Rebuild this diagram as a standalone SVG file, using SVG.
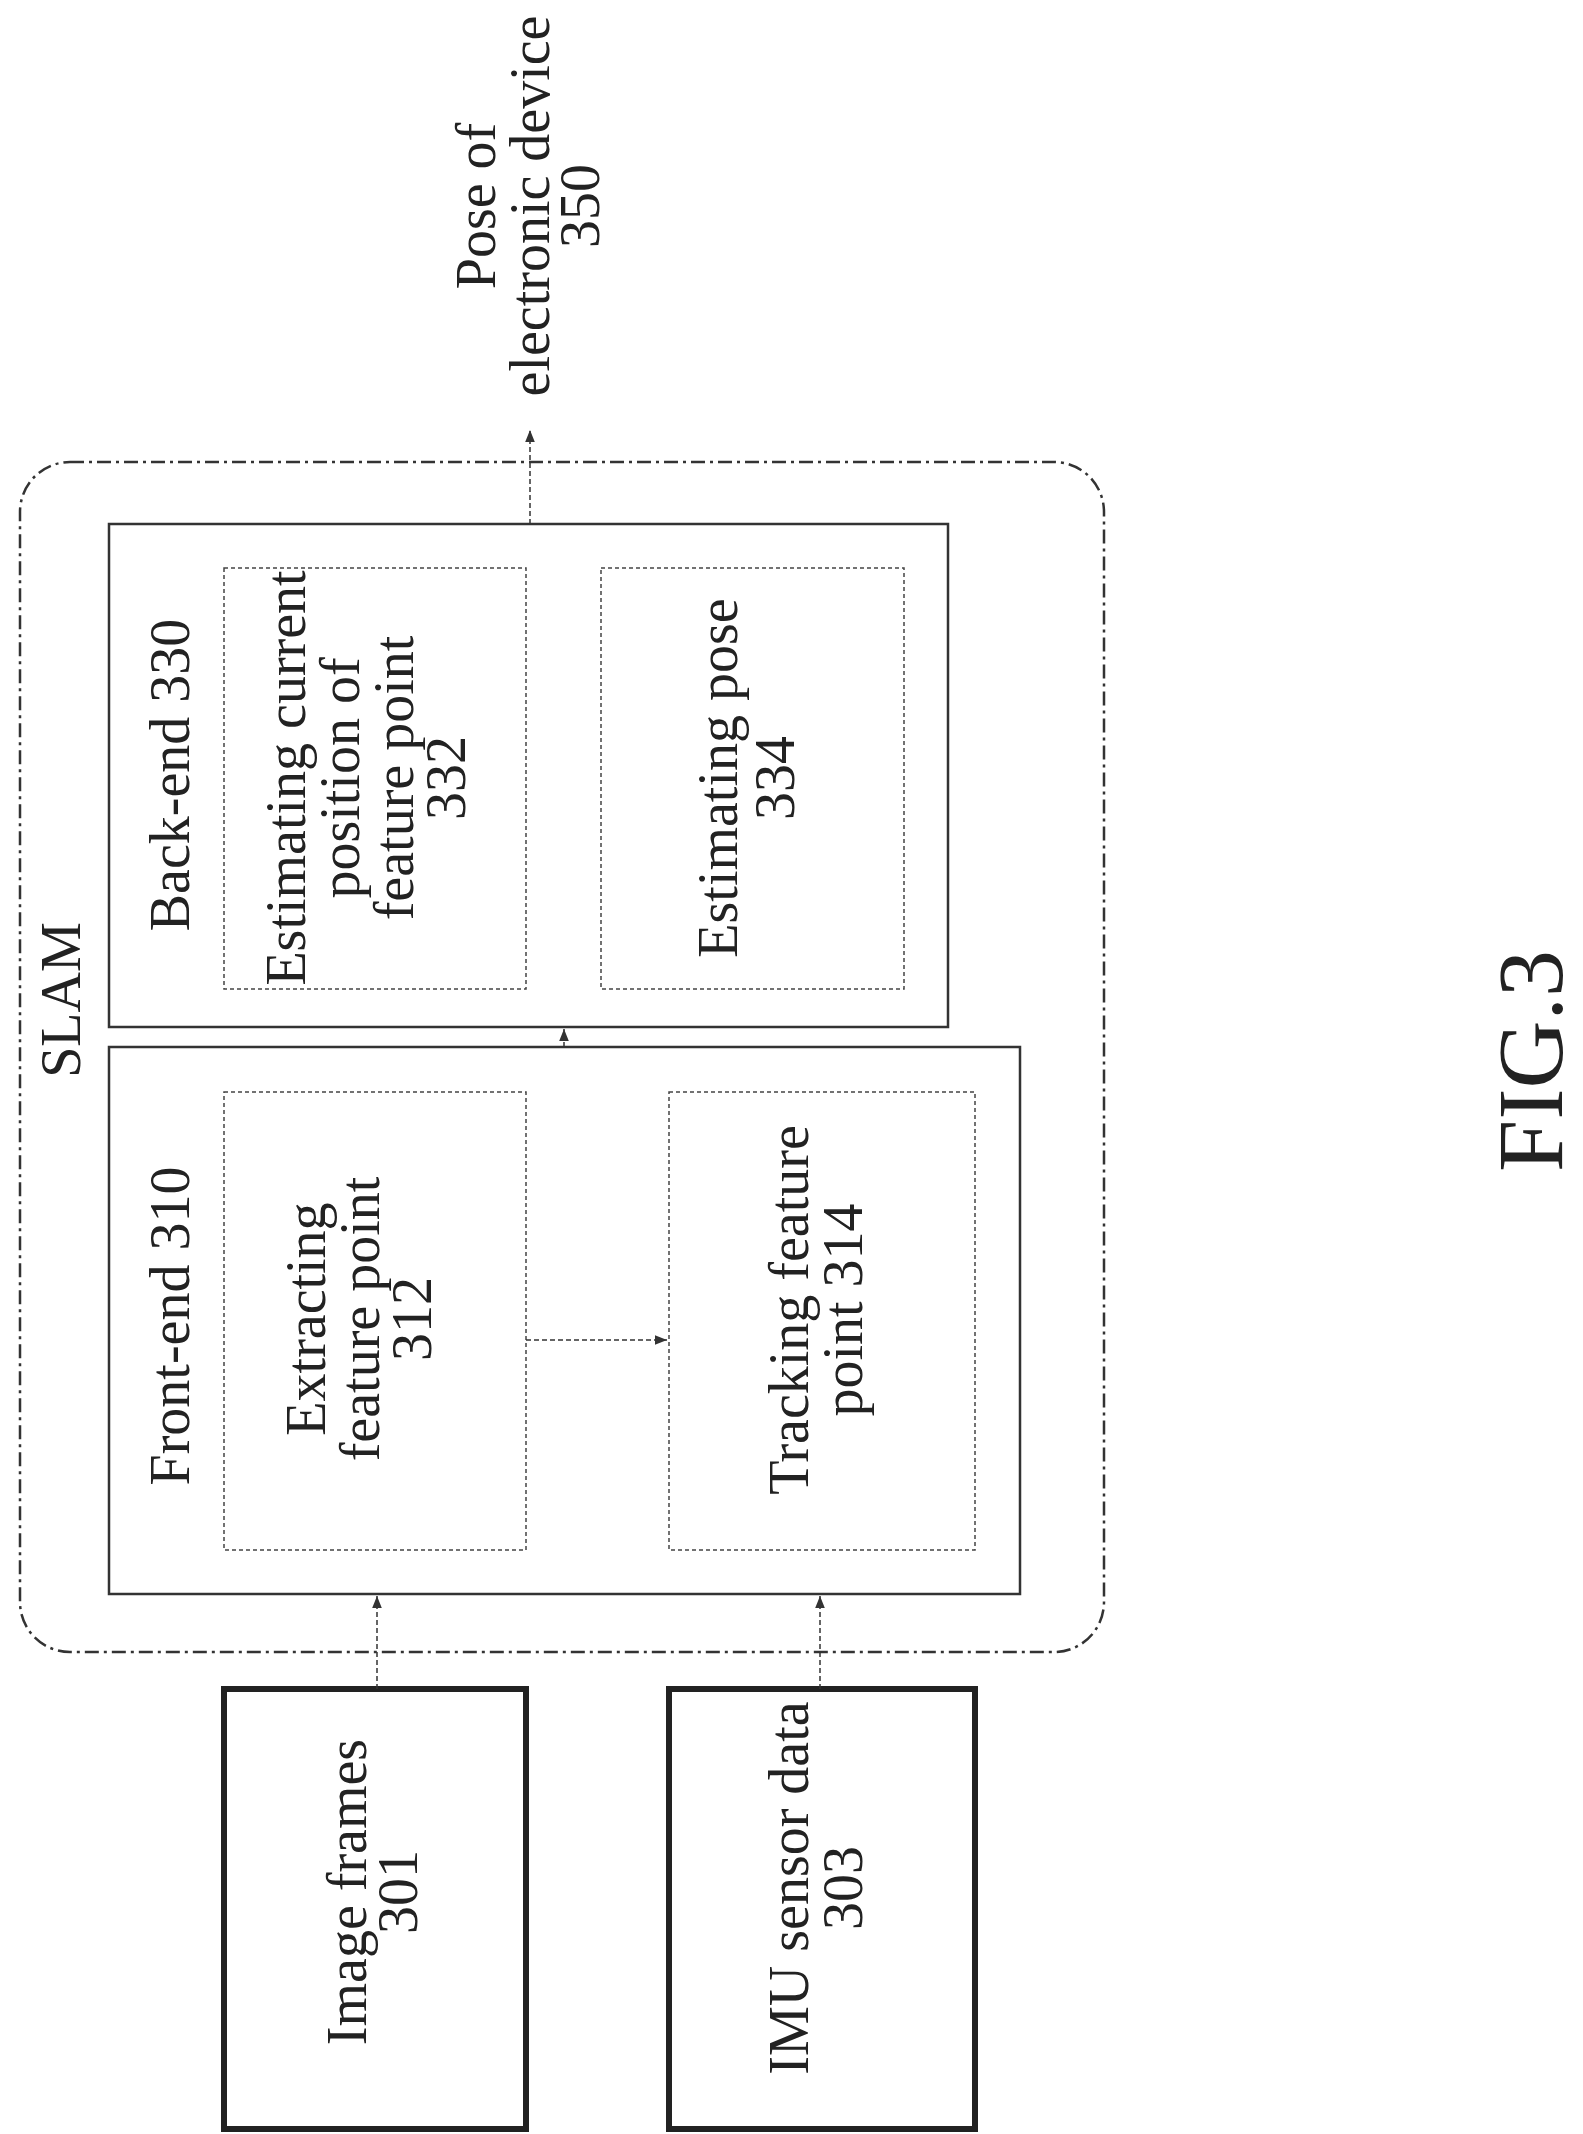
<svg xmlns="http://www.w3.org/2000/svg" width="1583" height="2134" viewBox="0 0 1583 2134">
<defs>
<marker id="ah" viewBox="0 0 10 10" refX="10" refY="5" markerWidth="12" markerHeight="12" markerUnits="userSpaceOnUse" orient="auto"><path d="M0,1 L10,5 L0,9 z" fill="#333"/></marker>
<style>
text{font-family:"Liberation Serif",serif;font-size:56px;fill:#222;text-anchor:middle;dominant-baseline:central}
.big{font-size:94px}
.inner{fill:none;stroke:#444;stroke-width:1.5;stroke-dasharray:4 3}
.mid{fill:none;stroke:#333;stroke-width:2.5}
.in{fill:none;stroke:#222;stroke-width:6}
.slam{fill:none;stroke:#333;stroke-width:2.5;stroke-dasharray:14 5 3 5}
.c{stroke:#333;stroke-width:1.5;stroke-dasharray:5 3;fill:none;marker-end:url(#ah)}
</style>
</defs>
<rect width="1583" height="2134" fill="#fff"/>
<g id="slam"><rect class="slam" x="20" y="462" width="1084" height="1190" rx="50"/>
<text transform="rotate(-90 61 1000)" x="61" y="1000">SLAM</text></g>
<g id="backend"><rect class="mid" x="109" y="524" width="839" height="503"/>
<text transform="rotate(-90 170 775)" x="170" y="775">Back-end 330</text></g>
<g id="n332"><rect class="inner" x="224" y="568" width="302" height="421"/>
<text transform="rotate(-90 286 778)" x="286" y="778">Estimating current</text>
<text transform="rotate(-90 340 778)" x="340" y="778">position of</text>
<text transform="rotate(-90 394 778)" x="394" y="778">feature point</text>
<text transform="rotate(-90 446 778)" x="446" y="778">332</text></g>
<g id="n334"><rect class="inner" x="601" y="568" width="303" height="421"/>
<text transform="rotate(-90 718 778)" x="718" y="778">Estimating pose</text>
<text transform="rotate(-90 775 778)" x="775" y="778">334</text></g>
<g id="frontend"><rect class="mid" x="109" y="1047" width="911" height="547"/>
<text transform="rotate(-90 170 1326)" x="170" y="1326">Front-end 310</text></g>
<g id="n312"><rect class="inner" x="224" y="1092" width="302" height="458"/>
<text transform="rotate(-90 306 1319)" x="306" y="1319">Extracting</text>
<text transform="rotate(-90 360 1319)" x="360" y="1319">feature point</text>
<text transform="rotate(-90 412 1319)" x="412" y="1319">312</text></g>
<g id="n314"><rect class="inner" x="669" y="1092" width="306" height="458"/>
<text transform="rotate(-90 789 1310)" x="789" y="1310">Tracking feature</text>
<text transform="rotate(-90 843 1310)" x="843" y="1310">point 314</text></g>
<g id="n301"><rect class="in" x="224" y="1689" width="302" height="440"/>
<text transform="rotate(-90 347 1892)" x="347" y="1892">Image frames</text>
<text transform="rotate(-90 398 1892)" x="398" y="1892">301</text></g>
<g id="n303"><rect class="in" x="669" y="1689" width="306" height="440"/>
<text transform="rotate(-90 789 1888)" x="789" y="1888">IMU sensor data</text>
<text transform="rotate(-90 843 1888)" x="843" y="1888">303</text></g>
<g id="n350">
<text transform="rotate(-90 476 206)" x="476" y="206">Pose of</text>
<text transform="rotate(-90 530 206)" x="530" y="206">electronic device</text>
<text transform="rotate(-90 580 206)" x="580" y="206">350</text></g>
<g id="connectors">
<path class="c" d="M377,1689 V1596"/>
<path class="c" d="M820,1689 V1596"/>
<path class="c" d="M526,1340 H667"/>
<path class="c" d="M564,1047 V1029"/>
<path class="c" d="M530,524 V430"/>
</g>
<text class="big" transform="rotate(-90 1530 1061)" x="1530" y="1061">FIG.3</text>
</svg>
